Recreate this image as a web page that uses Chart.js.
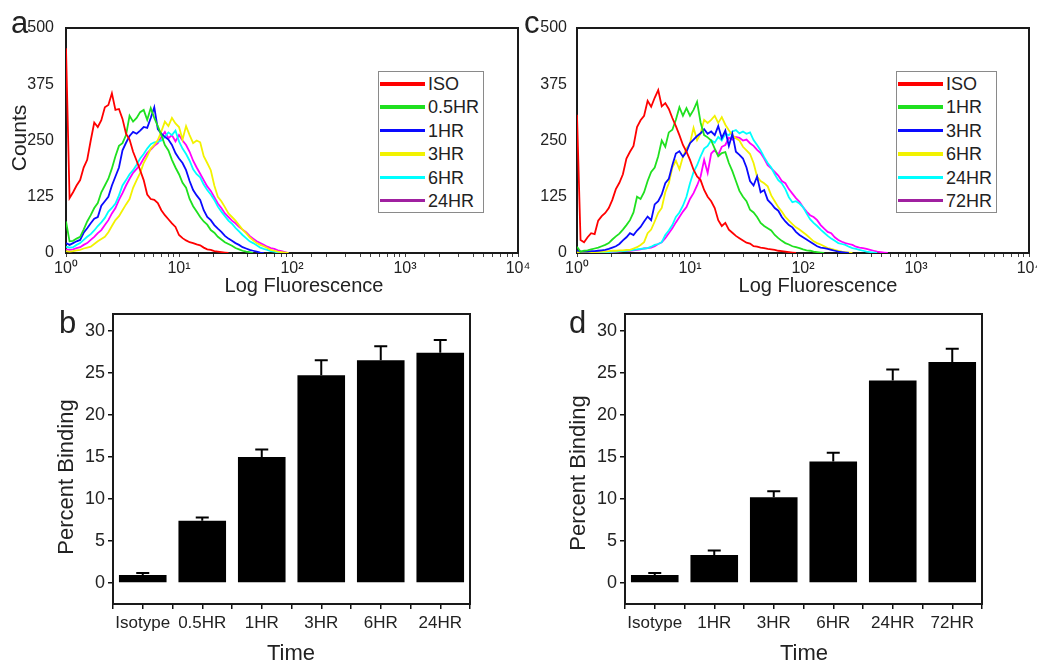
<!DOCTYPE html>
<html>
<head>
<meta charset="utf-8">
<script src="https://cdn.jsdelivr.net/npm/chart.js@4.4.1/dist/chart.umd.min.js"></script>
<style>
  body { margin: 0; background: #fff; }
  #wrap { position: relative; width: 1037px; height: 663px; overflow: hidden; font-family: 'Liberation Sans', Arial, sans-serif; color: #222; }
  #wrap canvas { position: absolute; left: 0; top: 0; }
  .lbl { position: absolute; white-space: nowrap; line-height: 1; z-index: 4; }
  .ctr { transform: translate(-50%, -50%); }
  .rot { transform: translate(-50%, -50%) rotate(-90deg); }
  .letter { font-size: 31px; }
  .legend { position: absolute; top: 71px; height: 142px; box-sizing: border-box; border: 1px solid #8a8a8a; background: #fff; z-index: 5; }
  .legend .row { position: relative; height: 23.4px; }
  .legend .sw { position: absolute; left: 1px; width: 45px; top: 10px; height: 3.5px; }
  .legend .tx { position: absolute; left: 49px; top: 2px; font-size: 18px; line-height: 20px; }
</style>
</head>
<body>
<div id="wrap">
  <canvas id="chartA" width="1037" height="663"></canvas>
  <canvas id="chartC" width="1037" height="663"></canvas>
  <canvas id="chartB" width="1037" height="663"></canvas>
  <canvas id="chartD" width="1037" height="663"></canvas>

  <div class="lbl letter" style="left:11px; top:7px;">a</div>
  <div class="lbl letter" style="left:524px; top:7px;">c</div>
  <div class="lbl letter" style="left:59px; top:307px;">b</div>
  <div class="lbl letter" style="left:569px; top:307px;">d</div>

  <div class="lbl rot" style="left:18px; top:138px; font-size:21px;">Counts</div>
  <div class="lbl ctr" style="left:304px; top:285px; font-size:20px;">Log Fluorescence</div>
  <div class="lbl ctr" style="left:818px; top:285px; font-size:20px;">Log Fluorescence</div>
  <div class="lbl rot" style="left:66px; top:477px; font-size:22px;">Percent Binding</div>
  <div class="lbl rot" style="left:578px; top:473px; font-size:22px;">Percent Binding</div>
  <div class="lbl ctr" style="left:291px; top:653px; font-size:22px;">Time</div>
  <div class="lbl ctr" style="left:804px; top:653px; font-size:22px;">Time</div>

  <div class="legend" id="legendA" style="left:378px; width:106px;"></div>
  <div class="legend" id="legendC" style="left:896px; width:101px;"></div>
</div>

<script>
// fluorescence channels (32 per decade)
const channels = [
  1.000, 1.075, 1.155, 1.241, 1.334, 1.433, 1.540, 1.655, 1.778, 1.911, 2.054, 2.207, 2.371, 2.548, 2.738, 2.943,
  3.162, 3.398, 3.652, 3.924, 4.217, 4.532, 4.870, 5.233, 5.623, 6.043, 6.494, 6.978, 7.499, 8.058, 8.660, 9.306,
  10.00, 10.75, 11.55, 12.41, 13.34, 14.33, 15.40, 16.55, 17.78, 19.11, 20.54, 22.07, 23.71, 25.48, 27.38, 29.43,
  31.62, 33.98, 36.52, 39.24, 42.17, 45.32, 48.70, 52.33, 56.23, 60.43, 64.94, 69.78, 74.99, 80.58, 86.60, 93.06,
  100.0, 107.5, 115.5, 124.1, 133.4, 143.3, 154.0, 165.5, 177.8, 191.1, 205.4, 220.7, 237.1, 254.8, 273.8, 294.3,
  316.2, 339.8, 365.2, 392.4, 421.7, 453.2, 487.0, 523.3, 562.3, 604.3, 649.4, 697.8, 749.9, 805.8, 866.0, 930.6, 1000
];

// panel a counts
const aISO = [455,122,135,150,162,190,207,250,290,280, 295,324,329,355,318,320,298,265,252,225, 205,184,162,130,120,118,111,95,84,75, 66,58,40,33,28,24,22,19,17,12, 8,7,4,3,2,1,0];
const a05HR = [70,26,27,32,36,52,70,84,100,111, 135,150,165,188,215,238,244,262,305,292, 300,313,318,296,322,300,282,262,240,228, 207,190,175,156,145,120,104,92,80,70, 63,51,45,36,30,24,20,16,11,8, 5,3,2,0];
const a1HR = [22,18,22,26,29,45,55,66,76,80, 105,115,125,150,170,190,228,245,260,269, 265,272,280,278,300,324,275,265,258,252, 240,222,210,200,184,160,140,128,118,95, 80,73,62,54,47,38,32,27,22,18, 13,10,7,5,3,1,0];
const a3HR = [4,3,4,6,7,10,12,14,20,26, 31,36,46,60,73,82,95,108,120,145, 162,178,200,215,232,240,251,270,292,282, 300,288,280,252,282,262,244,250,246,215, 200,184,150,125,115,102,88,80,72,62, 52,44,35,28,22,18,15,11,7,5, 3,2,1,0];
const a6HR = [14,12,13,18,22,29,36,42,50,60, 68,78,92,100,110,128,150,162,175,184, 196,210,220,232,242,246,247,250,258,268, 262,272,248,232,220,205,186,175,168,152, 140,130,118,103,92,82,72,65,56,48, 40,33,26,22,17,12,9,7,4,3, 1,0];
const a24HR = [8,7,8,11,13,18,22,29,36,44, 51,62,73,88,100,118,133,150,165,178, 187,196,210,222,230,238,244,258,269,255, 262,248,262,250,240,225,205,190,176,162, 148,138,124,110,100,88,80,72,66,58, 52,46,38,32,26,22,18,14,11,9, 6,4,2,0];

// panel c counts
const cISO = [307,29,24,35,44,42,72,82,89,100, 118,142,156,175,210,225,238,280,295,305, 338,325,345,362,326,333,320,300,282,262, 240,225,207,185,170,162,140,125,115,100, 73,60,67,52,45,38,33,28,23,21, 15,14,12,11,9,8,7,5,4,3, 2,1,0];
const c1HR = [14,3,5,6,8,10,12,15,18,22, 30,37,43,52,62,73,90,125,120,135, 160,180,190,215,250,236,268,274,296,324, 305,322,305,318,336,290,262,257,250,232, 215,222,224,200,182,160,138,125,115,96, 90,80,67,60,55,50,40,33,27,22, 19,15,13,11,8,6,5,3,2,1, 0];
const c3HR = [6,3,3,3,4,4,5,6,7,9, 12,15,20,28,35,44,40,50,58,70, 81,73,108,115,130,155,165,195,221,226, 214,225,244,252,260,266,275,265,270,262, 282,255,272,238,265,225,218,210,190,160, 150,170,135,140,118,110,100,94,80,70, 62,57,47,40,35,30,25,20,15,12, 11,9,7,5,3,2,1,0];
const c6HR = [2,1,1,1,2,2,2,3,3,4, 5,5,6,6,7,7,10,13,18,24, 44,52,70,89,100,135,155,190,205,186, 214,232,244,278,251,266,296,289,296,305, 289,302,285,273,262,255,250,236,228,220, 200,170,160,155,148,128,115,102,92,80, 72,64,57,52,46,40,33,26,22,19, 15,11,9,7,5,3,2,1,0];
const c24HR = [1,0,0,1,1,1,1,2,2,2, 3,3,4,4,5,6,7,8,9,10, 11,14,18,20,24,40,50,62,80,90, 105,125,155,180,195,215,232,238,251,245, 258,250,265,262,270,273,266,270,265,268, 251,240,228,213,200,190,175,162,155,142, 124,113,115,110,102,88,75,67,60,52, 45,38,32,27,22,20,18,14,11,9, 7,5,3,2,1,0];
const c72HR = [1,0,0,0,1,1,1,1,2,2, 2,3,3,4,4,5,6,7,8,10, 11,12,15,20,24,33,44,55,68,80, 92,102,120,133,150,170,207,178,221,229, 218,236,240,256,252,258,256,250,252,244, 238,229,222,210,195,188,180,172,160,155, 142,132,122,114,102,92,84,80,73,62, 54,47,44,35,29,25,22,20,18,14, 12,11,9,7,5,3,2,1,0];

const labelsA = ['ISO', '0.5HR', '1HR', '3HR', '6HR', '24HR'];
const labelsC = ['ISO', '1HR', '3HR', '6HR', '24HR', '72HR'];
const lineColors = ['#ff0000', '#1fe01f', '#0a0aff', '#f2f200', '#00ffff', '#ff00ff'];
const legendColors = ['#ff0000', '#1fe01f', '#0a0aff', '#f2f200', '#00ffff', '#a020a0'];
const histYTicks = [0, 125, 250, 375, 500];

// bar panels
const catsB = ['Isotype', '0.5HR', '1HR', '3HR', '6HR', '24HR'];
const bindB = [0.95, 7.4, 15.0, 24.7, 26.5, 27.4];
const errB = [0.24, 0.4, 0.87, 1.8, 1.65, 1.5];
const catsD = ['Isotype', '1HR', '3HR', '6HR', '24HR', '72HR'];
const bindD = [0.95, 3.33, 10.2, 14.45, 24.1, 26.3];
const errD = [0.24, 0.54, 0.72, 1.03, 1.3, 1.56];

const W = 1037, H = 663;
const SUP = ['\u2070', '\u00b9', '\u00b2', '\u00b3', '\u2074'];

Chart.defaults.font.family = "'Liberation Sans', Arial, Helvetica, sans-serif";
Chart.defaults.color = '#222';

// box around the plot area
const framePlugin = {
  id: 'frame',
  beforeDatasetsDraw(chart) {
    const a = chart.chartArea, ctx = chart.ctx;
    ctx.save();
    ctx.strokeStyle = '#1a1a1a';
    ctx.lineWidth = 2;
    ctx.strokeRect(a.left, a.top, a.right - a.left, a.bottom - a.top);
    ctx.restore();
  }
};

// upper error whiskers
const errPlugin = {
  id: 'errbars',
  afterDatasetsDraw(chart, args, opts) {
    const meta = chart.getDatasetMeta(0);
    const ys = chart.scales.y;
    const vals = chart.data.datasets[0].data;
    const ctx = chart.ctx;
    ctx.save();
    ctx.strokeStyle = '#000';
    ctx.lineWidth = 2;
    meta.data.forEach((bar, i) => {
      const top = ys.getPixelForValue(vals[i].y + opts.err[i]);
      ctx.beginPath();
      ctx.moveTo(bar.x, bar.y);
      ctx.lineTo(bar.x, top);
      ctx.moveTo(bar.x - 6.5, top);
      ctx.lineTo(bar.x + 6.5, top);
      ctx.stroke();
    });
    ctx.restore();
  }
};

function histChart(id, series, labels, box, yPad) {
  const yW = 60, xH = 40;
  return new Chart(document.getElementById(id), {
    type: 'line',
    data: {
      datasets: series.map((arr, j) => ({
        label: labels[j],
        data: arr.map((y, i) => ({ x: channels[i], y: y })),
        borderColor: lineColors[j],
        borderWidth: 1.8,
        pointRadius: 0,
        fill: false,
        tension: 0
      }))
    },
    options: {
      responsive: false,
      animation: false,
      events: [],
      layout: { padding: { left: box.left - yW, top: box.top, right: W - box.right, bottom: H - box.bottom - xH } },
      plugins: { legend: { display: false }, tooltip: { enabled: false } },
      scales: {
        x: {
          type: 'logarithmic', min: 1, max: 10000,
          ticks: {
            autoSkip: false, maxRotation: 0, font: { size: 16 }, padding: 2,
            callback: v => {
              const e = Math.log10(v);
              return Math.abs(e - Math.round(e)) < 1e-6 ? '10' + SUP[Math.round(e)] : '';
            }
          },
          grid: { drawOnChartArea: false, tickLength: 4, color: '#444' },
          border: { display: false },
          afterFit: s => { s.height = xH; s.paddingLeft = 0; s.paddingRight = 0; }
        },
        y: {
          min: 0, max: 500,
          afterBuildTicks: s => { s.ticks = histYTicks.map(v => ({ value: v })); },
          ticks: { font: { size: 16 }, padding: yPad },
          grid: { display: false },
          border: { display: false },
          afterFit: s => { s.width = yW; s.paddingTop = 0; s.paddingBottom = 0; }
        }
      }
    },
    plugins: [framePlugin]
  });
}

function barChart(id, cats, vals, errs, box) {
  const yW = 60, xH = 40;
  const xTicks = [];
  for (let i = 0; i <= cats.length * 2; i++) xTicks.push(i / 2 - 0.5);
  const yTicks = [];
  for (let i = 0; i <= 12; i++) yTicks.push(i * 2.5);
  return new Chart(document.getElementById(id), {
    type: 'bar',
    data: {
      datasets: [{
        data: vals.map((v, i) => ({ x: i, y: v })),
        backgroundColor: '#000',
        borderWidth: 0,
        // the ruler sees the half-step ticks, so 1.6 of that = 0.8 of a category
        barPercentage: 1.6,
        categoryPercentage: 1
      }]
    },
    options: {
      responsive: false,
      animation: false,
      events: [],
      layout: { padding: { left: box.left - yW, top: box.top, right: W - box.right, bottom: H - box.bottom - xH } },
      plugins: { legend: { display: false }, tooltip: { enabled: false }, errbars: { err: errs } },
      scales: {
        x: {
          type: 'linear', min: -0.5, max: cats.length - 0.5, offset: false,
          afterBuildTicks: s => { s.ticks = xTicks.map(v => ({ value: v })); },
          ticks: {
            autoSkip: false, maxRotation: 0, font: { size: 17 }, padding: 4,
            callback: v => Number.isInteger(v) ? cats[v] : ''
          },
          grid: { drawOnChartArea: false, tickLength: 5, color: '#111', lineWidth: 1.5, offset: false },
          border: { display: false },
          afterFit: s => { s.height = xH; s.paddingLeft = 0; s.paddingRight = 0; }
        },
        y: {
          min: -2.5, max: 32,
          afterBuildTicks: s => { s.ticks = yTicks.map(v => ({ value: v })); },
          ticks: { font: { size: 18 }, padding: 3, callback: v => (v % 5 === 0 ? String(v) : '') },
          grid: { drawOnChartArea: false, tickLength: 5, color: '#111', lineWidth: 1.5 },
          border: { display: false },
          afterFit: s => { s.width = yW; s.paddingTop = 0; s.paddingBottom = 0; }
        }
      }
    },
    plugins: [framePlugin, errPlugin]
  });
}

function buildLegend(id, labels) {
  const box = document.getElementById(id);
  labels.forEach((t, j) => {
    const row = document.createElement('div');
    row.className = 'row';
    const sw = document.createElement('span');
    sw.className = 'sw';
    sw.style.background = legendColors[j];
    const tx = document.createElement('span');
    tx.className = 'tx';
    tx.textContent = t;
    row.append(sw, tx);
    box.appendChild(row);
  });
}

histChart('chartA', [aISO, a05HR, a1HR, a3HR, a6HR, a24HR], labelsA, { left: 66, right: 518, top: 28, bottom: 253 }, 4);
histChart('chartC', [cISO, c1HR, c3HR, c6HR, c24HR, c72HR], labelsC, { left: 577, right: 1029, top: 28, bottom: 253 }, 2);
barChart('chartB', catsB, bindB, errB, { left: 113, right: 470, top: 314, bottom: 604 });
barChart('chartD', catsD, bindD, errD, { left: 625, right: 982, top: 314, bottom: 604 });
buildLegend('legendA', labelsA);
buildLegend('legendC', labelsC);
</script>
</body>
</html>
